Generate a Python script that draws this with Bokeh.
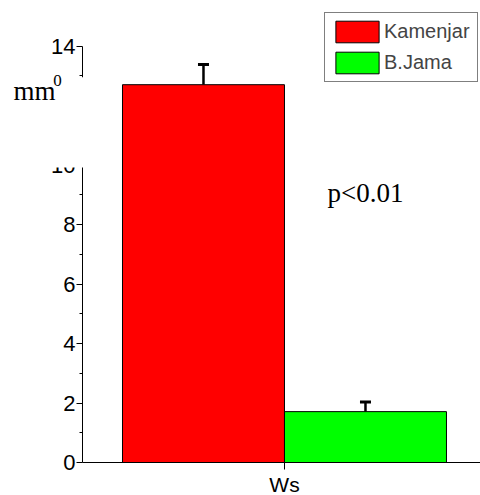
from bokeh.plotting import figure
from bokeh.models import (ColumnDataSource, Range1d, FixedTicker, Whisker, TeeHead,
                          Label, BoxAnnotation, Legend, LegendItem)
from bokeh.embed import file_html
from bokeh.resources import INLINE

# ---- data ----
categories = ["Ws"]
series = ["Kamenjar", "B.Jama"]
means = [12.7, 1.71]
errors = [0.68, 0.32]
colors = ["#ff0000", "#00ff00"]
y_ticks = [0, 2, 4, 6, 8, 10, 12, 14]
y_minor = [1, 3, 5, 7, 9, 11, 13]
p_text = "p<0.01"
unit_text = "mm"
unit_sup = "0"

# ---- layout constants ----
offsets = [-0.5, 0.5]
cat_idx = 0
xs = [cat_idx + o for o in offsets]
uppers = [m + e for m, e in zip(means, errors)]
x_lo, x_hi = -1.753, 1.21      # visible x range (frame spans whole width)
y_lo, y_hi = -1.109, 15.53     # visible y range (frame spans whole height)
axis_x = -1.247                # where the y axis stands
axis_y = 0                     # where the x axis stands

src = ColumnDataSource(dict(x=xs, top=means, upper=uppers, color=colors, name=series))

p = figure(width=480, height=495, x_range=Range1d(x_lo, x_hi), y_range=Range1d(y_lo, y_hi),
           output_backend="svg", toolbar_location=None,
           min_border_left=0, min_border_right=0, min_border_top=0, min_border_bottom=0)
p.outline_line_color = None
p.xgrid.visible = False
p.ygrid.visible = False
p.background_fill_color = "white"
p.border_fill_color = "white"

bars = p.vbar(x="x", top="top", width=1.0, bottom=0, source=src, fill_color="color",
              line_color="black", line_width=1)

w = Whisker(source=src, base="x", upper="upper", lower="top", lower_head=None,
            upper_head=TeeHead(size=11, line_width=3, line_color="black"),
            line_width=2.5, line_color="black")
p.add_layout(w)

# y axis
ya = p.yaxis[0]
ya.fixed_location = axis_x
ya.ticker = FixedTicker(ticks=y_ticks, minor_ticks=y_minor)
ya.bounds = (0, 14)
ya.major_tick_out = 6
ya.major_tick_in = 0
ya.minor_tick_out = 3
ya.minor_tick_in = 0
ya.major_label_standoff = 1
ya.major_label_text_font = "Liberation Sans"
ya.major_label_text_font_size = "22px"
ya.major_label_text_color = "black"
ya.axis_line_color = "black"
ya.major_tick_line_color = "black"
ya.minor_tick_line_color = "black"

# x axis
xa = p.xaxis[0]
xa.fixed_location = axis_y
xa.bounds = (axis_x, x_hi)
xa.ticker = FixedTicker(ticks=[cat_idx], minor_ticks=[])
xa.major_label_overrides = {cat_idx: categories[0]}
xa.major_tick_out = 7
xa.major_tick_in = 0
xa.major_label_standoff = 3
xa.major_label_text_font = "Liberation Sans"
xa.major_label_text_font_size = "21px"
xa.major_label_text_color = "black"
xa.axis_line_color = "black"
xa.major_tick_line_color = "black"

# axis break (white cover over part of the y axis)
brk = BoxAnnotation(left=-1.506, right=-1.198, bottom=9.92, top=12.95,
                    fill_color="white", fill_alpha=1.0, line_color=None)
p.add_layout(brk)

# unit label
p.add_layout(Label(x=-1.672, y=12.5, text=unit_text,
                   text_font="Liberation Serif", text_font_size="27px", text_color="black",
                   text_baseline="alphabetic"))
p.add_layout(Label(x=-1.428, y=12.85, text=unit_sup,
                   text_font="Liberation Serif", text_font_size="17px", text_color="black",
                   text_baseline="alphabetic"))

# p-value
p.add_layout(Label(x=0.265, y=9.05, text=p_text, text_font="Liberation Serif",
                   text_font_size="27px", text_color="black", text_baseline="alphabetic"))

# legend
legend = Legend(items=[LegendItem(label=series[i], renderers=[bars], index=i) for i in range(2)],
                location=(324, 413), glyph_width=54, glyph_height=27, label_standoff=0,
                label_height=27, label_width=88, padding=5, spacing=4, margin=0,
                label_text_font="Liberation Sans", label_text_font_size="20px",
                border_line_color="black", border_line_width=1,
                background_fill_color="white", background_fill_alpha=1.0)
p.add_layout(legend)

open("out.html", "w").write(file_html(p, INLINE))
